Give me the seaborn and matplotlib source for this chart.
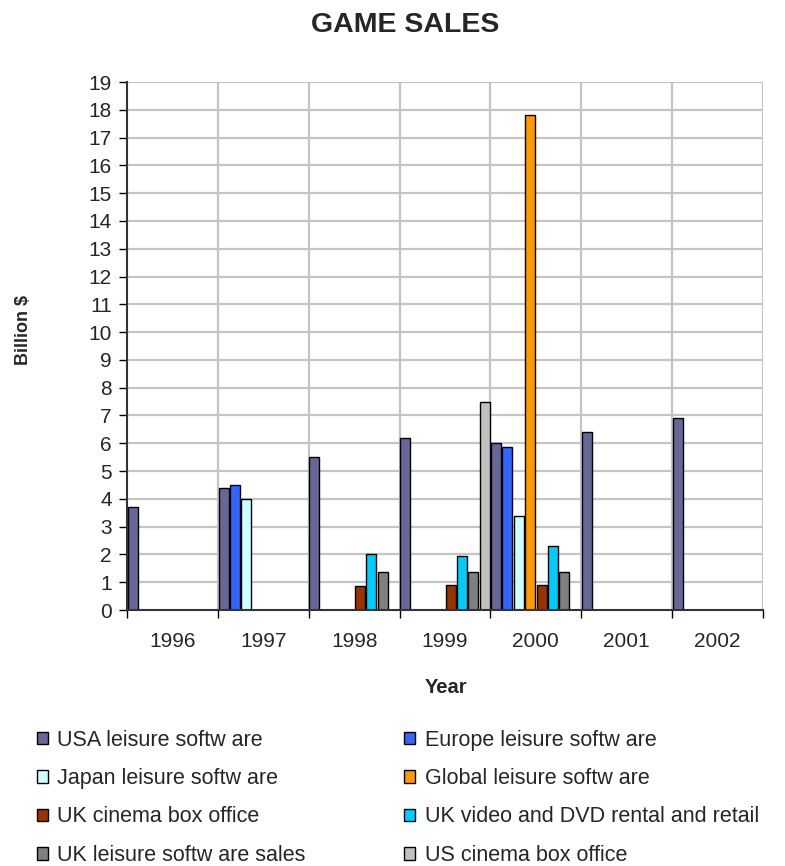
import numpy as np
import pandas as pd
import matplotlib
matplotlib.use("Agg")
import matplotlib.pyplot as plt
import seaborn as sns
from matplotlib.patches import Patch

years = ["1996", "1997", "1998", "1999", "2000", "2001", "2002"]
series = [
    "USA leisure softw are",
    "Europe leisure softw are",
    "Japan leisure softw are",
    "Global leisure softw are",
    "UK cinema box office",
    "UK video and DVD rental and retail",
    "UK leisure softw are sales",
    "US cinema box office",
]
usa_leisure = [3.7, 4.4, 5.5, 6.2, 6.0, 6.4, 6.9]
europe_leisure = [None, 4.5, None, None, 5.85, None, None]
japan_leisure = [None, 4.0, None, None, 3.4, None, None]
global_leisure = [None, None, None, None, 17.8, None, None]
uk_cinema = [None, None, 0.85, 0.9, 0.9, None, None]
uk_video = [None, None, 2.0, 1.95, 2.3, None, None]
uk_leisure_sales = [None, None, 1.37, 1.37, 1.37, None, None]
us_cinema = [None, None, None, 7.5, None, None, None]

colors = ["#666699", "#3366FF", "#CCFFFF", "#FF9900",
          "#993300", "#00CCFF", "#808080", "#C0C0C0"]

columns = [usa_leisure, europe_leisure, japan_leisure, global_leisure,
           uk_cinema, uk_video, uk_leisure_sales, us_cinema]
rows = []
for name, vals in zip(series, columns):
    for y, v in zip(years, vals):
        rows.append({"Year": y, "Series": name,
                     "Value": np.nan if v is None else v})
df = pd.DataFrame(rows)

sns.set_theme(style="white")
plt.rcParams["font.family"] = ["Liberation Sans", "DejaVu Sans"]

fig = plt.figure(figsize=(7.85, 8.66), dpi=100)
ax = fig.add_axes([0.1618, 0.2956, 0.8102, 0.6097])

sns.barplot(data=df, x="Year", y="Value", hue="Series", order=years,
            hue_order=series, palette=colors, width=1.0, gap=0.12,
            dodge=True, edgecolor="black", linewidth=1.0, legend=False,
            errorbar=None, ax=ax, saturation=1.0)

ax.set_xlim(-0.5, len(years) - 0.5)
ax.set_ylim(0, 19)
ax.set_yticks(range(0, 20))
ax.tick_params(axis="y", labelsize=15, length=6, width=1, color="black",
               direction="out", left=True, pad=5)

# category boundaries carry the ticks and vertical gridlines
bounds = np.arange(-0.5, len(years), 1.0)
ax.set_xticks(bounds)
ax.set_xticklabels([])
ax.set_xticks(range(len(years)), minor=True)
ax.set_xticklabels(years, minor=True, fontsize=15)
ax.tick_params(axis="x", which="major", length=6, width=1, color="black",
               direction="out", bottom=True)
ax.tick_params(axis="x", which="minor", length=0, pad=16)

ax.set_axisbelow(True)
for yv in range(1, 20):
    ax.axhline(yv, color="#C4C4C4", lw=1.6, zorder=0)
for xb in bounds[1:]:
    ax.axvline(xb, color="#C4C4C4", lw=1.6, zorder=0)

for s in ["top", "right"]:
    ax.spines[s].set_visible(False)
for s in ["left", "bottom"]:
    ax.spines[s].set_color("#333333")
    ax.spines[s].set_linewidth(1.5)

ax.set_xlabel("Year", fontsize=14.5, fontweight="bold")
ax.set_ylabel("Billion $", fontsize=13, fontweight="bold")
ax.xaxis.set_label_coords(0.502, -0.128)
ax.yaxis.set_label_coords(-0.162, 0.53)
ax.yaxis.label.set_va("center")

fig.text(0.516, 0.971, "GAME SALES", ha="center", va="center",
         fontsize=20.5, fontweight="bold")

# two legend columns, each placed on its own
handles = [Patch(facecolor=c, edgecolor="black", linewidth=1.0) for c in colors]
legend_kw = dict(loc="upper left", frameon=False, fontsize=15.5,
                 handlelength=0.52, handleheight=0.52, handletextpad=0.42,
                 labelspacing=0.81, borderaxespad=0, borderpad=0)
left_col = [0, 2, 4, 6]
right_col = [1, 3, 5, 7]
fig.legend([handles[i] for i in left_col], [series[i] for i in left_col],
           bbox_to_anchor=(0.047, 0.1575), **legend_kw)
fig.legend([handles[i] for i in right_col], [series[i] for i in right_col],
           bbox_to_anchor=(0.515, 0.1575), **legend_kw)

fig.savefig("out.png", dpi=100)
